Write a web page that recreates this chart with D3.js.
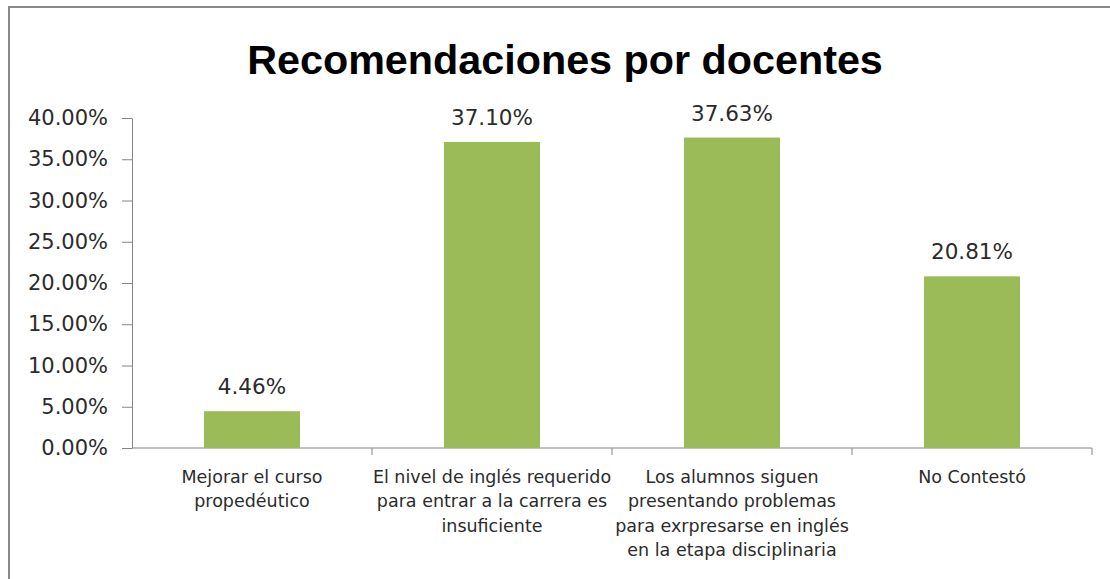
<!DOCTYPE html>
<html>
<head>
<meta charset="utf-8">
<script src="https://cdn.jsdelivr.net/npm/d3@7"></script>
<style>
  html, body { margin: 0; padding: 0; background: #fff; }
  svg { display: block; }
</style>
</head>
<body>
<svg id="chart" width="1110" height="579"></svg>
<script>
const title = "Recomendaciones por docentes";
const categories = [
  ["Mejorar el curso", "propedéutico"],
  ["El nivel de inglés requerido", "para entrar a la carrera es", "insuficiente"],
  ["Los alumnos siguen", "presentando problemas", "para exrpresarse en inglés", "en la etapa disciplinaria"],
  ["No Contestó"]
];
const values = [4.46, 37.10, 37.63, 20.81];
const yTicks = [0, 5, 10, 15, 20, 25, 30, 35, 40];

const W = 1110, H = 579;
const svg = d3.select("#chart");
const titleFont = "'Liberation Sans', Arial, sans-serif";
const font = "'DejaVu Sans', sans-serif";

// outer border (left and top visible)
svg.append("path")
  .attr("d", `M9,${H} L9,7 L${W},7`)
  .attr("fill", "none")
  .attr("stroke", "#8a8a8a")
  .attr("stroke-width", 2);

const m = { left: 132, right: 1092, top: 118, bottom: 448 };
const keys = categories.map((c, i) => i);
const x = d3.scaleBand().domain(keys).range([m.left, m.right]).paddingInner(0.6).paddingOuter(0.3);
const xOuter = d3.scaleBand().domain(keys).range([m.left, m.right]);
const y = d3.scaleLinear().domain([0, 40]).range([m.bottom, m.top]);

// title
svg.append("text")
  .attr("x", 565).attr("y", 74)
  .attr("text-anchor", "middle")
  .attr("font-family", titleFont)
  .attr("font-weight", "bold")
  .attr("font-size", 41.3)
  .attr("fill", "#000")
  .text(title);

// y axis
const yAxis = d3.axisLeft(y).tickValues(yTicks)
  .tickFormat(d => d.toFixed(2) + "%")
  .tickSizeInner(10).tickSizeOuter(0).tickPadding(14);
const gy = svg.append("g").attr("transform", `translate(${m.left},0)`).call(yAxis);
gy.select(".domain").attr("stroke", "#868686");
gy.selectAll(".tick line").attr("stroke", "#868686");
gy.selectAll(".tick text")
  .attr("font-family", font).attr("font-size", 21).attr("fill", "#2b2b2b");

// x axis line and ticks at category boundaries
svg.append("line")
  .attr("x1", m.left).attr("x2", m.right)
  .attr("y1", m.bottom).attr("y2", m.bottom)
  .attr("stroke", "#868686");
const bounds = keys.map(k => xOuter(k) + xOuter.bandwidth());
svg.selectAll(".xt").data(bounds).enter().append("line")
  .attr("x1", d => d).attr("x2", d => d)
  .attr("y1", m.bottom).attr("y2", m.bottom + 7)
  .attr("stroke", "#868686");

// bars
svg.selectAll(".bar").data(values).enter().append("rect")
  .attr("x", (d, i) => x(i))
  .attr("width", x.bandwidth())
  .attr("y", d => y(d))
  .attr("height", d => y(0) - y(d))
  .attr("fill", "#9BBB59");

// data labels
svg.selectAll(".lbl").data(values).enter().append("text")
  .attr("x", (d, i) => x(i) + x.bandwidth() / 2)
  .attr("y", d => y(d) - 17)
  .attr("text-anchor", "middle")
  .attr("font-family", font).attr("font-size", 21.5).attr("fill", "#2b2b2b")
  .text(d => d.toFixed(2) + "%");

// category labels
categories.forEach((lines, i) => {
  const cx = xOuter(i) + xOuter.bandwidth() / 2;
  const t = svg.append("text")
    .attr("x", cx)
    .attr("text-anchor", "middle")
    .attr("font-family", font).attr("font-size", 17.5).attr("fill", "#2b2b2b");
  lines.forEach((ln, j) => {
    t.append("tspan")
      .attr("x", cx)
      .attr("y", 483 + j * 24.3)
      .text(ln);
  });
});
</script>
</body>
</html>
